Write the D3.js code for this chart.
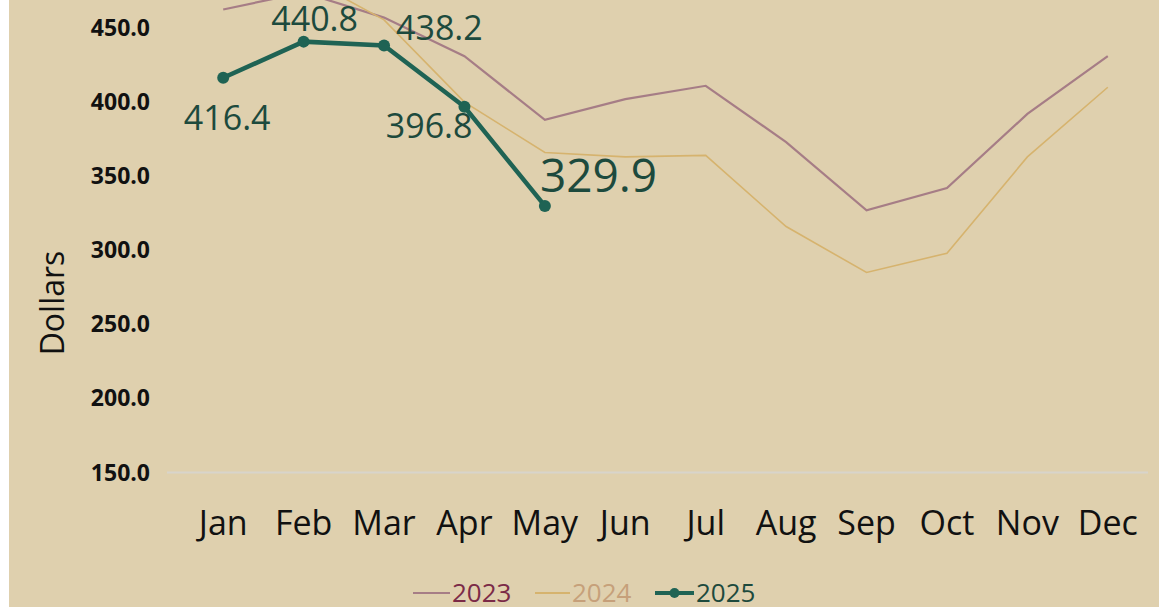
<!DOCTYPE html>
<html>
<head>
<meta charset="utf-8">
<script src="https://cdn.jsdelivr.net/npm/d3@7.9.0/dist/d3.min.js"></script>
<style>
  body { margin: 0; background: #fff; }
  svg { display: block; font-family: 'Open Sans', sans-serif; }
</style>
</head>
<body>
<svg id="chart" width="1161" height="607"></svg>
<script>
const months = ['Jan', 'Feb', 'Mar', 'Apr', 'May', 'Jun', 'Jul', 'Aug', 'Sep', 'Oct', 'Nov', 'Dec'];
const values2023 = [462.5, 474, 457, 431, 388, 402, 411, 373, 327, 342, 392, 431];
const values2024 = [478, 485, 455.5, 400, 366, 363, 364, 316, 285, 298, 363, 410];
const values2025 = [416.4, 440.8, 438.2, 396.8, 329.9];
const yTicks = [150, 200, 250, 300, 350, 400, 450];

const svg = d3.select('#chart');

// beige card behind everything
svg.append('rect')
    .attr('x', 9).attr('y', 0)
    .attr('width', 1150).attr('height', 607)
    .attr('fill', '#dfd0ae');

const x = d3.scalePoint().domain(months).range([183, 1148]).padding(0.5);
const y = d3.scaleLinear().domain([150, 450]).range([472.5, 28]);

// baseline grid line at 150
svg.append('line')
    .attr('x1', 167).attr('x2', 1148)
    .attr('y1', y(150)).attr('y2', y(150))
    .attr('stroke', '#d8d4cb')
    .attr('stroke-width', 2);

// y tick labels
svg.append('g')
    .selectAll('text')
    .data(yTicks)
    .join('text')
    .attr('x', 150)
    .attr('y', d => y(d))
    .attr('dy', '0.35em')
    .attr('text-anchor', 'end')
    .attr('font-size', 23)
    .attr('font-weight', 700)
    .attr('fill', '#111')
    .text(d3.format('.1f'));

// month labels
svg.append('g')
    .selectAll('text')
    .data(months)
    .join('text')
    .attr('x', d => x(d))
    .attr('y', 535)
    .attr('text-anchor', 'middle')
    .attr('font-size', 34)
    .attr('fill', '#111')
    .text(d => d);

// y axis title
svg.append('text')
    .attr('transform', 'translate(64,303) rotate(-90)')
    .attr('text-anchor', 'middle')
    .attr('font-size', 32)
    .attr('fill', '#111')
    .text('Dollars');

const line = d3.line()
    .x((d, i) => x(months[i]))
    .y(d => y(d));

svg.append('path')
    .attr('d', line(values2023))
    .attr('fill', 'none')
    .attr('stroke', '#a67d86')
    .attr('stroke-width', 2.2);

svg.append('path')
    .attr('d', line(values2024))
    .attr('fill', 'none')
    .attr('stroke', '#d6b36e')
    .attr('stroke-width', 1.6);

svg.append('path')
    .attr('d', line(values2025))
    .attr('fill', 'none')
    .attr('stroke', '#1f6354')
    .attr('stroke-width', 4.5);

svg.append('g')
    .selectAll('circle')
    .data(values2025)
    .join('circle')
    .attr('cx', (d, i) => x(months[i]))
    .attr('cy', d => y(d))
    .attr('r', 6)
    .attr('fill', '#1f6354');

// where each 2025 value label sits relative to its point
const labelPlacement = [
    { dx: 4, dy: 52, anchor: 'middle', size: 34 },
    { dx: 11, dy: -11, anchor: 'middle', size: 34 },
    { dx: 12, dy: -5, anchor: 'start', size: 34 },
    { dx: 8, dy: 31, anchor: 'end', size: 34 },
    { dx: -5, dy: -14, anchor: 'start', size: 46 }
];

svg.append('g')
    .selectAll('text')
    .data(values2025)
    .join('text')
    .attr('x', (d, i) => x(months[i]) + labelPlacement[i].dx)
    .attr('y', (d, i) => y(d) + labelPlacement[i].dy)
    .attr('text-anchor', (d, i) => labelPlacement[i].anchor)
    .attr('font-size', (d, i) => labelPlacement[i].size)
    .attr('fill', '#1d4a3d')
    .text(d => d.toFixed(1));

// legend
const legendItems = [
    { label: '2023', line: '#a67d86', text: '#7b2a47', x1: 413, x2: 450, dot: false },
    { label: '2024', line: '#d6b36e', text: '#c6a07a', x1: 535, x2: 570, dot: false },
    { label: '2025', line: '#1f6354', text: '#1d4a3d', x1: 655, x2: 694, dot: true }
];

const legend = svg.append('g');
legendItems.forEach(item => {
    legend.append('line')
        .attr('x1', item.x1).attr('x2', item.x2)
        .attr('y1', 593).attr('y2', 593)
        .attr('stroke', item.line)
        .attr('stroke-width', item.dot ? 4 : 2);
    if (item.dot) {
        legend.append('circle')
            .attr('cx', (item.x1 + item.x2) / 2)
            .attr('cy', 593)
            .attr('r', 5)
            .attr('fill', item.line);
    }
    legend.append('text')
        .attr('x', item.x2 + 2)
        .attr('y', 602)
        .attr('font-size', 26)
        .attr('fill', item.text)
        .text(item.label);
});
</script>
</body>
</html>
